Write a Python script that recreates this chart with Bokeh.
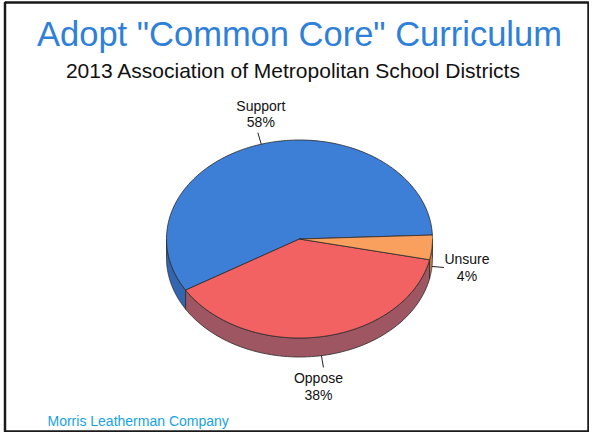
import numpy as np
from bokeh.plotting import figure
from bokeh.models import Range1d
from bokeh.core.properties import value
from bokeh.embed import file_html
from bokeh.resources import INLINE

# ---- data ----
title = 'Adopt "Common Core" Curriculum'
subtitle = "2013 Association of Metropolitan School Districts"
footer = "Morris Leatherman Company"
categories = ["Support", "Oppose", "Unsure"]
values = [58, 38, 4]
top_colors = ["#3d7fd6", "#f26262", "#f9a05e"]
side_colors = ["#3366b0", "#9e5662", "#c47a4c"]

FONT = value("Liberation Sans")

W, H = 589, 432
p = figure(width=W, height=H, x_range=Range1d(8, 597), y_range=Range1d(440, 8),
           output_backend="svg", toolbar_location=None, min_border=0)
p.axis.visible = False
p.grid.visible = False
p.outline_line_color = None
p.background_fill_color = "white"
p.border_fill_color = "white"

# pie geometry (window-like coordinates, y grows downward)
cx, cy, rx, ry, depth = 307, 246.5, 133, 99, 19
start_deg = 2.3

vals = np.array(values, dtype=float)
ends = start_deg + np.cumsum(vals / vals.sum() * 360.0)
starts = np.concatenate([[start_deg], ends[:-1]])


def pt(t_deg, dy=0.0):
    t = np.radians(t_deg)
    return cx + rx * np.cos(t), cy - ry * np.sin(t) + dy


# sides (front half only: 180..360)
sxs, sys, scol = [], [], []
for a, b, c in zip(starts, ends, side_colors):
    lo, hi = max(a, 180.0), min(b, 360.0)
    if hi > lo:
        ts = np.linspace(lo, hi, 80)
        x1, y1 = pt(ts)
        x2, y2 = pt(ts[::-1], depth)
        sxs.append(list(np.concatenate([x1, x2])))
        sys.append(list(np.concatenate([y1, y2])))
        scol.append(c)
p.patches(sxs, sys, fill_color=scol, line_color="#2a2a2a", line_width=0.8)

# top faces
txs, tys = [], []
for a, b in zip(starts, ends):
    ts = np.linspace(a, b, 160)
    x1, y1 = pt(ts)
    txs.append([cx] + list(x1))
    tys.append([cy] + list(y1))
p.patches(txs, tys, fill_color=top_colors, line_color="#2a2a2a", line_width=0.8)

# labels with leader lines (text_baseline "middle": y is the line's centre)
for name, v, a, b in zip(categories, values, starts, ends):
    m = (a + b) / 2.0
    t = np.radians(m)
    dx, dyv = np.cos(t), -np.sin(t)
    front = np.sin(t) < 0
    ax, ay = pt(m, depth if front else 0.0)
    ex, ey = ax + dx * 12, ay + dyv * 12
    p.line([ax, ex], [ay, ey], line_color="#222222", line_width=1)
    lines = [name, f"{v}%"]
    if abs(dx) > abs(dyv):
        lx, ys = ex + 23, [ey - 8, ey + 9]
    elif dyv < 0:
        lx, ys = ex + 3, [ey - 27, ey - 11]
    else:
        lx, ys = ex - 5, [ey + 11, ey + 28]
    p.text(x=[lx, lx], y=ys, text=lines, text_font=FONT, text_font_size="14px",
           text_color="#111111", text_align="center", text_baseline="middle")

# titles & footer
p.text(x=[307], y=[41], text=[title], text_font=FONT, text_font_size="34.5px",
       text_color="#2f80d8", text_align="center", text_baseline="middle")
p.text(x=[301], y=[78], text=[subtitle], text_font=FONT, text_font_size="21px",
       text_color="#111111", text_align="center", text_baseline="middle")
p.text(x=[55], y=[428], text=[footer], text_font=FONT, text_font_size="14px",
       text_color="#17a3e3", text_align="left", text_baseline="middle")

# frame border
p.quad(left=[12.5], right=[596], top=[10], bottom=[439], fill_color=None,
       line_color="#1a1a1a", line_width=2.5)

open("out.html", "w").write(file_html(p, INLINE))
